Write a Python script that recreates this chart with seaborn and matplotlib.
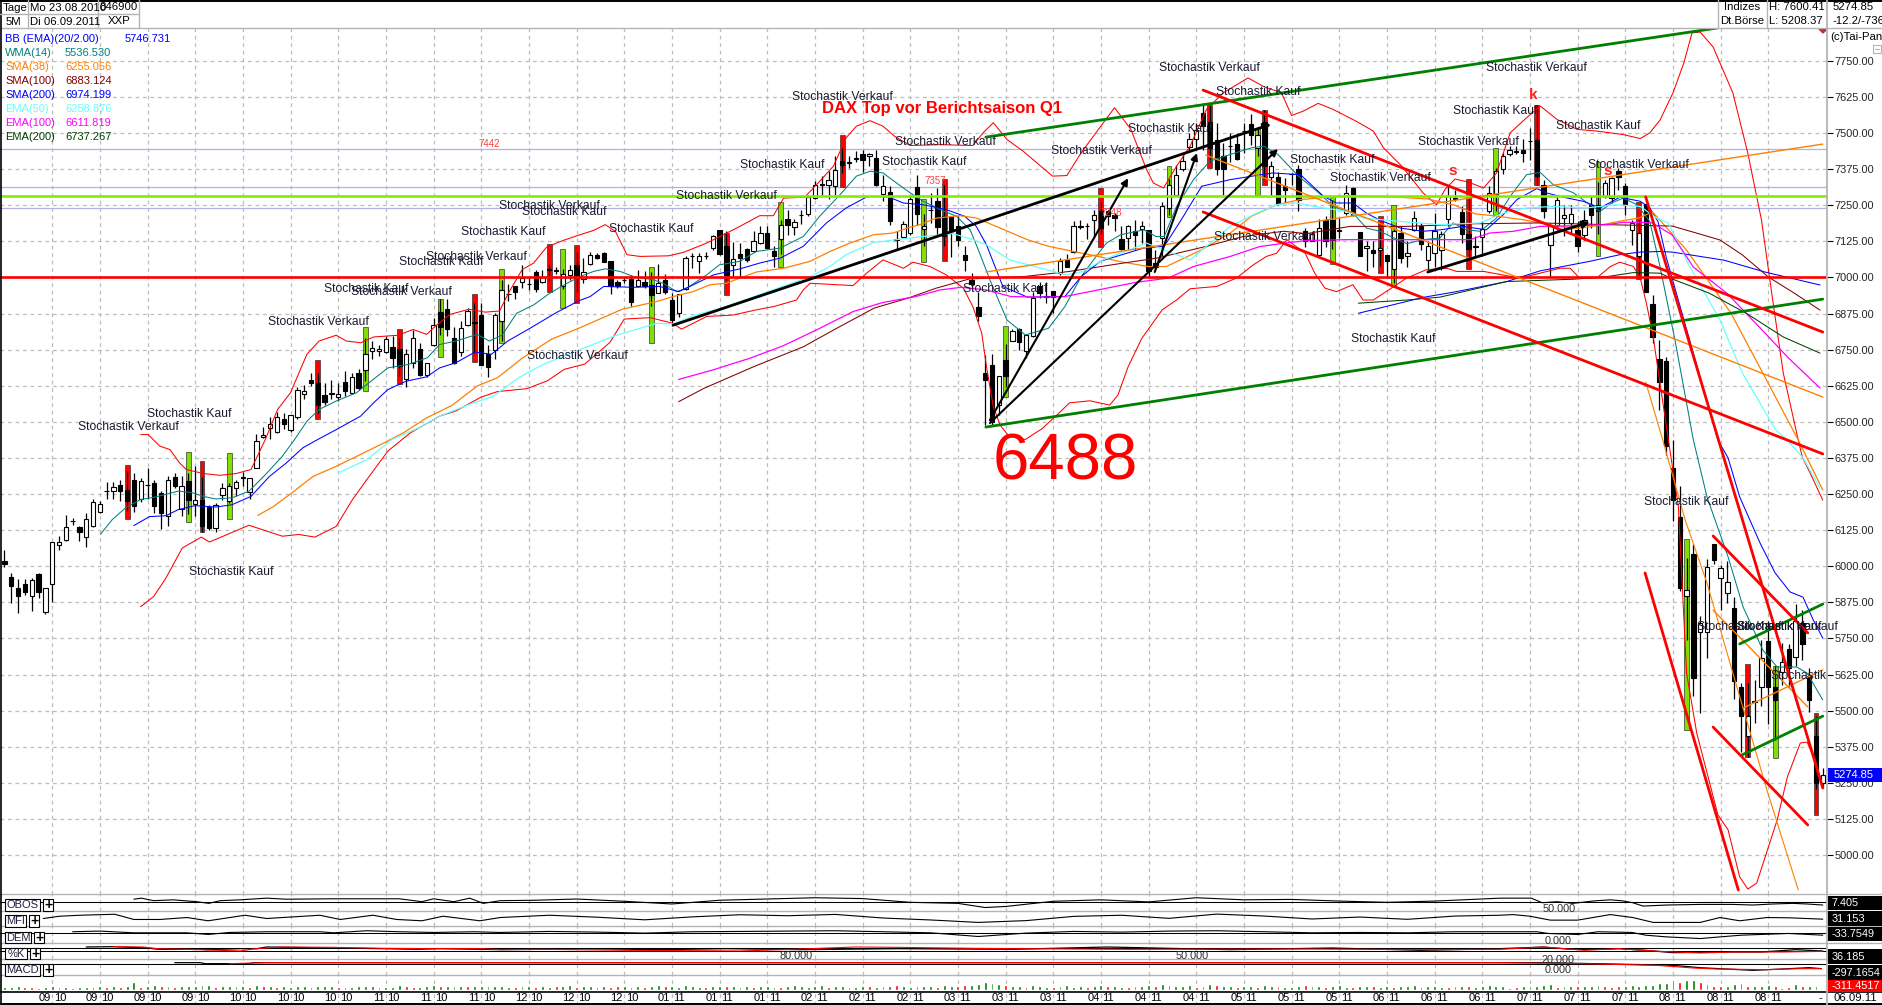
import seaborn as sns
import matplotlib
matplotlib.use("Agg")
import matplotlib.pyplot as plt
from matplotlib.patches import Rectangle

# daily candles, DAX 23.08.2010 - 06.09.2011
opens = [6019,5963,5924,5939,5898,5974,5843,5938,6072,6090,
         6156,6136,6101,6141,6188,6260,6261,6283,6265,6299,
         6234,6283,6288,6254,6175,6309,6198,6294,6216,6231,
         6204,6132,6248,6225,6270,6307,6257,6340,6447,6479,
         6465,6511,6471,6516,6595,6645,6636,6593,6598,6587,
         6639,6601,6668,6679,6745,6745,6742,6760,6751,6650,
         6703,6753,6661,6766,6880,6892,6792,6743,6836,6842,
         6869,6736,6749,6850,6942,6971,6986,6977,7020,6986,
         7026,7023,6969,7009,7044,6994,7046,7079,7084,7058,
         6986,6990,6995,6972,6983,6975,6948,6990,6921,6878,
         6960,7073,7058,7075,7102,7163,7108,7044,7082,7098,
         7093,7119,7154,7093,7133,7202,7175,7216,7221,7275,
         7320,7322,7318,7405,7398,7412,7429,7422,7414,7290,
         7296,7130,7139,7154,7312,7168,7232,7264,7212,7212,
         7179,7079,6992,6897,6668,6697,6558,6714,6781,6821,
         6747,6799,6969,6934,6954,7015,7061,7088,7176,7178,
         7198,7230,7229,7216,7134,7137,7160,7168,7165,7050,
         7137,7240,7287,7376,7451,7478,7570,7540,7475,7420,
         7454,7464,7506,7530,7450,7540,7348,7348,7316,7358,
         7374,7160,7128,7079,7200,7200,7161,7223,7310,7157,
         7102,7094,7096,7079,7030,7154,7075,7165,7179,7061,
         7084,7096,7202,7273,7227,7150,7104,7140,7229,7290,
         7376,7428,7436,7443,7471,7475,7319,7111,7183,7206,
         7189,7165,7146,7252,7250,7281,7275,7368,7316,7163,
         7073,7255,6907,6717,6710,6340,6170,5898,6042,5771,
         5774,6078,5959,5909,5855,5583,5413,5530,5581,5742,
         5583,5633,5713,5685,5805,5620,5412,5248]
highs = [6057,5978,5955,5955,5959,5978,5924,6084,6106,6178,
         6167,6138,6184,6234,6227,6292,6292,6300,6330,6323,
         6305,6340,6300,6260,6312,6323,6312,6323,6346,6310,
         6213,6219,6288,6290,6300,6325,6305,6457,6483,6517,
         6535,6531,6525,6622,6626,6668,6670,6636,6644,6633,
         6676,6668,6684,6790,6780,6765,6797,6797,6790,6751,
         6818,6774,6705,6860,6925,6925,6830,6850,6896,6910,
         6913,6765,6878,6990,6978,6971,7044,7003,7027,7027,
         7047,7038,7030,7044,7090,7067,7087,7084,7087,7058,
         6992,7003,7009,7027,7021,7020,7046,7012,6946,6943,
         7076,7084,7084,7088,7148,7165,7160,7123,7119,7102,
         7160,7179,7179,7108,7200,7235,7202,7235,7287,7333,
         7350,7368,7420,7449,7422,7437,7441,7432,7443,7354,
         7316,7160,7194,7287,7356,7220,7293,7310,7320,7214,
         7212,7110,7015,6949,6732,6734,6659,6770,6821,6824,
         6803,6951,6986,6986,6954,7067,7082,7194,7200,7189,
         7235,7260,7235,7223,7177,7183,7198,7194,7165,7096,
         7260,7340,7388,7432,7501,7536,7603,7597,7536,7466,
         7501,7501,7536,7565,7520,7580,7403,7364,7345,7362,
         7391,7171,7154,7202,7212,7270,7206,7322,7313,7157,
         7125,7125,7171,7079,7170,7177,7125,7231,7189,7125,
         7223,7160,7316,7304,7246,7280,7142,7194,7318,7380,
         7432,7455,7455,7478,7518,7596,7339,7189,7281,7252,
         7252,7194,7235,7281,7330,7336,7348,7380,7327,7200,
         7200,7255,6940,6784,6725,6438,6277,6028,6077,5826,
         6025,6078,6005,6017,5895,5595,5595,5607,5745,5809,
         5656,5734,5731,5870,5849,5647,5480,5300]
lows = [5999,5872,5839,5901,5846,5891,5835,5877,6055,6089,
        6144,6086,6065,6136,6184,6234,6234,6227,6190,6189,
        6222,6233,6184,6130,6138,6271,6173,6180,6173,6120,
        6126,6118,6231,6219,6242,6277,6233,6340,6444,6442,
        6462,6476,6464,6511,6578,6624,6530,6557,6578,6572,
        6589,6597,6610,6640,6716,6728,6740,6687,6660,6622,
        6687,6659,6656,6762,6800,6797,6699,6728,6832,6740,
        6697,6656,6717,6780,6917,6925,6963,6957,6951,6980,
        6992,7013,6960,6992,6950,6980,7044,7064,7052,6943,
        6963,6980,6902,6969,6963,6900,6946,6943,6833,6862,
        6957,7032,7017,7064,7096,7079,6990,7003,7003,7055,
        7090,7117,7098,7036,7080,7148,7146,7186,7214,7273,
        7287,7272,7287,7362,7380,7400,7366,7385,7318,7264,
        7183,7096,7136,7148,7183,7110,7189,7148,7110,7070,
        7110,7024,6957,6850,6490,6489,6523,6620,6781,6749,
        6722,6795,6928,6911,6876,7009,7038,7084,7168,7133,
        7137,7150,7183,7160,7096,7096,7096,7119,7003,7021,
        7073,7215,7283,7368,7443,7449,7443,7400,7356,7287,
        7400,7408,7432,7460,7420,7340,7287,7252,7258,7319,
        7229,7107,7125,7073,7107,7100,7137,7218,7212,7073,
        7021,7038,7040,6998,6980,7050,7038,7160,7094,7027,
        7038,7027,7177,7264,7119,7060,7067,7073,7223,7230,
        7360,7420,7426,7399,7408,7322,7206,7003,7165,7142,
        7154,7090,7131,7171,7150,7275,7258,7304,7218,7113,
        7000,6951,6772,6541,6385,6155,5913,5745,5551,5491,
        5682,6009,5849,5872,5540,5358,5340,5456,5516,5454,
        5400,5589,5583,5653,5676,5497,5230,5231]
closes = [6008,5933,5898,5912,5953,5912,5924,6084,6084,6136,
          6157,6117,6163,6222,6216,6261,6275,6260,6225,6207,
          6295,6280,6207,6184,6299,6277,6277,6231,6231,6140,
          6132,6213,6271,6277,6292,6309,6305,6434,6454,6491,
          6517,6491,6523,6610,6607,6636,6560,6568,6600,6598,
          6607,6656,6618,6736,6757,6753,6788,6720,6693,6736,
          6792,6662,6703,6834,6830,6820,6705,6826,6884,6847,
          6697,6690,6869,6958,6944,6951,6998,6979,6960,7001,
          7030,7025,7013,7027,6998,7019,7078,7067,7054,6969,
          6971,6993,6914,6992,6972,6940,6980,6951,6853,6943,
          7067,7075,7075,7076,7142,7080,7009,7064,7067,7059,
          7125,7154,7102,7076,7183,7183,7191,7218,7278,7322,
          7323,7339,7371,7390,7401,7415,7406,7428,7319,7316,
          7194,7132,7185,7272,7221,7179,7234,7175,7142,7163,
          7131,7061,6978,6865,6645,6500,6659,6659,6815,6778,
          6801,6928,6946,6937,6934,7058,7038,7179,7178,7180,
          7215,7170,7212,7205,7100,7179,7146,7179,7024,7035,
          7249,7320,7355,7405,7478,7512,7524,7450,7376,7376,
          7456,7411,7508,7495,7495,7385,7385,7258,7302,7360,
          7267,7125,7152,7171,7128,7130,7163,7293,7218,7073,
          7108,7084,7102,7058,7160,7069,7084,7206,7116,7110,
          7162,7152,7281,7276,7150,7100,7109,7168,7293,7370,
          7422,7443,7438,7432,7473,7351,7229,7177,7267,7218,
          7221,7108,7198,7217,7230,7327,7345,7348,7252,7189,
          7155,6951,6795,6639,6415,6231,5924,5919,5612,5803,
          5997,6020,5994,5947,5601,5480,5480,5532,5682,5583,
          5537,5670,5647,5809,5730,5537,5248,5277]

# signal bars (Stochastik)
red_idx = [18,29,46,58,69,80,84,106,123,138,161,177,185,202,215,225,240,256,266]
red_top = [6350,6365,6714,6823,6942,7117,7112,7154,7494,7341,7310,7597,7580,7214,7341,7596,7260,5661,5491]
red_bot = [6163,6118,6511,6630,6708,6949,6911,6940,7312,7056,7105,7378,7319,7017,7029,7322,6994,5338,5139]
green_idx = [27,33,53,64,73,82,95,114,135,147,171,184,195,204,219,234,247,260]
green_top = [6396,6392,6830,6925,7029,7098,7036,7260,7272,6832,7385,7518,7279,7252,7447,7399,6094,5656]
green_bot = [6152,6163,6607,6726,6772,6894,6772,7036,7052,6585,7209,7287,7046,6969,7214,7075,5433,5335]

bb_up_x = [20,21.1,22.8,24.3,25.7,26.7,29.2,31.6,34,36.2,38.3,40.1,42,44.4,46.2,48.7,50.2,52.3,54.2,57.8,60,62,63.3,65.4,68.2,70.6,72.7,74,76,77.7,79.6,82,84.5,86.5,88.2,89.7,91.4,93.3,97.5,99.7,103.1,107.5,110.9,112.9,114.4,117.5,119.7,121.7,123.6,125.1,127.1,129,130.7,133,137.4,142.2,143.7,145.2,147.2,149.6,153.9,156,158.1,163,165.4,167.7,168.7,170.2,172.1,174.1,176.5,179,182.6,185,187.5,189,190.7,192.9,195.1,198.5,201,202.5,205.2,208.3,210.3,211.5,213,215,217.2,219.1,221.1,223.5,225.5,228,230.9,233.8,237.7,240.2,241.6,243.1,245,246.6,247.8,249,250.9,253.8,256,258,259.5,261.2,263.4,264,265.4,267]
bb_up_p = [6456,6456,6416,6404,6358,6335,6321,6315,6321,6335,6439,6543,6601,6734,6780,6800,6780,6774,6794,6800,6820,6803,6832,6872,6890,6880,6884,6946,7027,7050,7105,7128,7148,7163,7183,7160,7079,7073,7075,7087,7119,7171,7214,7214,7275,7278,7333,7385,7484,7524,7543,7524,7489,7457,7460,7457,7501,7536,7478,7437,7351,7353,7432,7588,7513,7374,7327,7310,7385,7455,7582,7640,7691,7660,7640,7561,7576,7603,7582,7541,7507,7449,7385,7293,7252,7304,7341,7330,7310,7362,7501,7553,7594,7547,7513,7507,7495,7481,7501,7545,7639,7743,7847,7850,7798,7639,7430,7199,6946,6669,6437,6378,6310,6229]
bb_lo_x = [20,21.9,23.7,26.1,28.9,30.1,35.9,40.8,43.2,45.6,48.7,51.1,53.2,56.3,59.6,63.9,66.3,70,72.4,76.7,79.7,82.2,85.2,88.9,91,94.8,98.2,99.4,101.1,103.1,107,110.4,112.9,116.3,117.3,118.3,124.6,126.6,129,132,133.4,135.9,138.3,140.8,142.2,143.5,144.2,145.2,146.2,147.5,149.9,152.4,154.5,156.4,159.4,162.3,163.5,165,167,170,172.1,174.1,178,180.9,183.4,185.3,186.8,188.3,191,192.4,193.9,195.6,198,199.5,201,205.9,208.8,211.8,213.2,217.2,222.5,225.5,228.4,229.9,231.3,233.8,235.8,237.2,239.2,240.2,241.1,242.1,243.1,245.8,247,248.5,251.6,253.1,254.8,256,257.3,260.3,261.8,263.7,264.7,265.9,267]
bb_lo_p = [5860,5895,5959,6063,6101,6084,6142,6104,6110,6101,6138,6231,6300,6399,6462,6520,6538,6586,6605,6615,6642,6682,6700,6775,6856,6861,6841,6821,6841,6865,6870,6888,6899,6922,6957,6980,6972,7015,7061,7032,7053,7038,7009,6963,6899,6807,6691,6552,6489,6450,6439,6477,6523,6566,6573,6558,6593,6691,6789,6888,6922,6961,6969,6998,7044,7073,7084,7131,7084,7015,6963,6951,6975,6922,6922,6998,7027,7032,7021,7021,6998,7015,7032,7032,6998,6998,7038,7053,7038,6998,6911,6795,6633,6205,5630,5422,5139,5087,4924,4882,4903,5121,5270,5388,5391,5329,5235]
wma_x = [14.1,15.8,17.9,20,22.2,25.5,27.4,29.2,31,33.4,35.9,38.3,40.8,42.6,44.4,46.2,48.7,51.7,53.5,56.3,59.3,62.1,63.9,66.3,69.4,71.2,73.1,75.2,77.7,80.1,82.6,84.5,86.5,88.2,90.4,92.4,95.3,96.7,98.7,100.2,103.1,105,108,110.4,113.9,117.3,119.7,122.7,125.1,127.1,129,131,133,134.9,137.4,139.8,141.8,143.2,144.7,147.2,149.9,153.3,155.7,158.1,160.3,161.8,163.9,167.3,169.1,170.3,172.1,174.6,177,180,183.1,184.9,187,190,193,195.1,198,200,202,204,205.9,208.3,210.8,212.7,214.7,216.7,219.1,221.1,223.5,225.5,227.4,230.4,232.8,234.3,236,237.7,239.7,241.6,243.1,245.3,248,250,253.1,255.3,258.2,260.3,263.2,264.7,267]
wma_p = [6111,6161,6205,6231,6240,6260,6256,6242,6233,6237,6260,6317,6381,6439,6502,6543,6572,6601,6635,6687,6699,6722,6768,6780,6803,6780,6801,6876,6905,6946,6980,7003,7021,7030,7021,7003,6992,6980,6951,6963,7009,7044,7056,7090,7102,7142,7212,7287,7351,7368,7362,7327,7293,7264,7235,7212,7165,7084,6992,6853,6801,6824,6899,7003,7073,7119,7148,7165,7142,7142,7246,7339,7403,7426,7449,7455,7426,7351,7293,7246,7223,7171,7160,7137,7117,7131,7137,7189,7165,7160,7206,7281,7356,7364,7322,7293,7252,7229,7258,7275,7252,7194,7038,6783,6437,6240,6032,5859,5710,5651,5651,5630,5537]
bbm_x = [19,21.3,23.7,25.5,28,31,33.4,36.2,38.9,41.4,43.8,46,48.7,52.3,54.2,56.3,59,62,63.9,66.3,69.1,71.5,73.9,77.3,81,84.3,86,88,92.4,96.2,99,101.6,104.1,108,110.9,113.9,117.3,120.7,123.6,126.6,127.6,129.8,132,134.9,138.3,141,142.7,144.2,146.6,150.2,155.7,158.1,160.9,164.8,167.3,170.3,172.8,175.8,180,186.2,190.3,193.7,195.6,198,200,202,205,208.3,210.8,214.2,217.6,220.1,222.1,225,226.4,228.9,231.8,234.3,237.2,240.2,241.6,242.8,244,251.6,253.1,254.8,257.8,260,262.2,264.1,265.6,267]
bbm_p = [6141,6172,6175,6196,6210,6205,6213,6242,6311,6358,6410,6439,6473,6520,6566,6612,6641,6656,6687,6705,6742,6734,6780,6826,6878,6919,6934,6969,6966,6969,6951,6980,7009,7030,7050,7067,7108,7189,7241,7279,7281,7279,7258,7252,7235,7212,7177,7113,6969,6932,6934,7003,7056,7084,7102,7108,7200,7316,7339,7362,7356,7281,7258,7258,7223,7198,7171,7160,7165,7177,7165,7218,7270,7308,7293,7278,7264,7241,7278,7264,7241,7194,7071,6437,6375,6240,6080,5977,5911,5893,5814,5751]
sma38_x = [37.2,39.5,42.3,45.3,48.7,53.2,55.7,58.7,62,65.7,69.4,72.4,76.1,80.3,84.6,90.7,95.8,98.2,101.1,103.6,106,108,110.4,114.4,118.3,121.2,124.1,127.6,130.5,132.5,134.4,136.9,140.3,142.7,146.2,150.2,153.3,157,160.6,163.6,167.9,170.6,175.8,180,183.1,186.8,190.3,197,204,209,213,216,219,223,228,231,234,237,240,242,247,253.5,258.2,263.4,267]
sma38_p = [6176,6207,6256,6311,6346,6398,6427,6464,6514,6557,6624,6653,6722,6786,6827,6890,6917,6934,6951,6975,6980,6998,7019,7032,7056,7090,7119,7148,7154,7171,7183,7206,7214,7206,7171,7131,7108,7090,7073,7056,7038,7038,7096,7154,7212,7252,7270,7283,7279,7272,7250,7220,7213,7200,7178,7170,7180,7194,7206,7227,7095,6877,6669,6437,6264]
sma100_x = [99,102.7,110,117.3,122.2,127.7,132.6,136.8,141.7,149.6,156.4,164.3,169.2,176.5,181.9,187.8,191.2,197.6,205.9,215.7,225.5,235.3,244.9,248,251.9,255.2,259,262.8,266.6]
sma100_p = [6570,6616,6691,6760,6824,6894,6928,6963,6995,7003,7021,7050,7067,7108,7142,7160,7152,7177,7177,7186,7189,7183,7178,7157,7130,7078,7002,6946,6887]
sma200_x = [198.8,208.3,213.2,220.6,225.5,232.8,237.2,240.2,243.1,244.9,252.5,258.5,266.6]
sma200_p = [6876,6931,6951,6986,7023,7056,7079,7088,7090,7088,7060,7019,6974]
ema50_x = [49,53.2,56.9,60.8,63.9,68.2,71.8,75.5,79.1,84.6,89.5,93.3,95.7,98.2,101.4,105.3,118.3,121.2,123.6,127.6,131,134.9,139.3,142.2,144.2,147.6,155.9,158.4,161.3,167.7,174.1,176.5,180,183.9,186.8,189.7,193.7,197,199.5,205,210.8,216.7,220.1,223.5,227.4,232.3,236.7,240.2,242.6,244.3,247.5,251.9,255.2,260.1,261.8,264.1,266.6]
ema50_p = [6323,6369,6439,6479,6520,6560,6589,6653,6699,6751,6797,6824,6841,6839,6870,6894,7003,7038,7079,7121,7131,7142,7152,7131,7113,7061,7009,7021,7061,7119,7061,7108,7177,7223,7252,7258,7241,7229,7206,7194,7183,7189,7223,7241,7246,7241,7252,7246,7206,7189,7036,6853,6669,6472,6437,6375,6271]
ema100_x = [99,103.9,109.4,114.3,119.2,124.6,128.9,133.8,137.4,140.5,144.1,147.8,152.7,155.7,160.6,166.1,170.9,174.6,180,184.3,188,191.2,197,201,215.2,218.1,221.6,225.5,230.4,235.3,237.7,240.4,242,244.9,248,252.9,258.5,261.8,266.6]
ema100_p = [6647,6679,6720,6763,6818,6882,6913,6934,6957,6966,6957,6934,6932,6934,6957,6983,6998,7038,7073,7107,7119,7128,7131,7131,7131,7154,7160,7177,7179,7183,7191,7191,7189,7147,7036,6946,6808,6725,6617]
ema200_x = [198.8,205.9,210.8,220.6,230.4,235.3,239.2,243.1,245.3,250.3,255.7,261.2,266.6]
ema200_p = [6911,6922,6932,6986,6994,7003,7017,7015,6991,6946,6877,6794,6738]

# drawn trend lines
tl_green_x = [[144.1,251.5],[144.1,267],[254.8,267],[255.1,267]]
tl_green_p = [[7486,7864],[6482,6925],[5731,5869],[5346,5481]]
tl_red_x = [[176,267],[176,267],[241,267],[240.9,254.6],[250.9,264.8],[250.9,264.8]]
tl_red_p = [[7649,6811],[7227,6389],[7279,5232],[5977,4879],[6105,5769],[5443,5104]]
tl_black_x = [[98.2,186],[144.7,165],[168.9,175.1],[144.7,187],[209,232.8]]
tl_black_p = [[6835,7531],[6506,7344],[7019,7431],[6496,7445],[7019,7192]]
tl_orange_x = [[176.4,267],[144.1,267],[250.9,264.8],[255.3,267]]
tl_orange_p = [[7424,6586],[7019,7462],[5848,5513],[5509,5641]]
orange_steep_x = [241,243.5,246.8,250,253.8,258.8,263.4]
orange_steep_p = [6638,6437,6160,5942,5630,5225,4879]

level_blue = [7444,7312,7239]
level_green = 7282
level_red = 7000

# indicator panes
obos_x = [19,20.1,21.9,24.8,28.2,30,31.7,34.6,38.5,41.4,48.3,58,61.3,63,66,68.3,70.3,72.8,78,84,91,98,105,112,119,126,133,140,144,147,154,161,168,175,182,189,196,203,210,219.6,224.2,225.8,228,230.3,233.5,235.8,237.6,239.1,240.6,244.1,249,253.8,256.7,259.7,262.6,264.7,267]
obos_v = [65,70,58,62,53,45,58,62,70,65,67,67,53,67,53,70,45,58,60,66,55,42,60,66,72,68,50,45,25,30,55,62,52,72,62,64,56,50,56,70,70,48,53,45,57,62,57,48,32,37,40,40,37,42,45,42,37]
mfi_x = [5.7,8.1,11.1,16.2,19,22.8,26.8,29.9,33.1,35.3,38.5,46.3,49.3,54.1,57.6,61.3,64.4,69.8,72.8,80,87,94,101,108,115,122,129,136,143,150,157,164,171,178,185,192,199,206,213,219.6,221.5,224,227,231,235.8,239.1,242.1,249,251.9,254.8,258.8,262.2,267]
mfi_v = [35,49,55,61,29,29,41,21,41,55,35,55,29,55,29,21,49,21,41,55,43,27,45,58,52,60,38,26,11,22,48,55,36,62,50,32,44,30,50,55,59,49,25,25,59,41,11,11,41,21,41,39,31]
dem_x = [10,14,19,26.8,29.9,33,38.5,46.3,48.3,53.2,58,63,69,72.8,80,87,94,101,108,115,122,129,136,143,150,157,164,171,178,185,192,199,206,213,219.6,225,226.7,231,234,239,241,244,249,252,255,262,267]
dem_v = [34,47,13,13,-20,20,34,34,13,54,34,20,34,20,40,27,7,34,40,47,54,34,13,-60,7,40,27,47,54,34,13,20,13,34,34,34,0,-20,34,20,-34,-67,-101,-67,-34,0,-34]
k_x = [12,16,21,22.6,25.8,27.7,29.7,34.6,37,38.5,48.3,55.6,60.5,64,72.8,79,85,96,106,117,131,148,162,180,195,208,219.6,226,230,235,237,241,245,252,258,263,267]
k_v = [92,98,74,50,50,62,44,62,62,92,74,62,50,62,44,50,62,44,62,44,62,50,92,44,74,32,62,92,50,50,62,32,-10,2,2,44,20]
d_x = [16,20.4,22.4,26.8,31.7,34.6,36.5,40.5,48.3,55.6,63,70.3,72.8,79,92,108,117,125,131,142,148,165,190,210,219.6,226,232,237,243,249,254,261,267]
d_v = [98,92,62,50,32,20,56,92,86,68,62,62,44,50,32,20,56,92,86,68,62,50,56,44,50,92,32,62,14,-16,2,2,14]
macd_b_x = [25,28.7,29.5,36,36.5,88,112,117,200,219.6,221.5,226.4,240.6,245,248.9,256.7,261.1,265,266.8]
macd_b_v = [60,60,0,0,60,60,60,60,60,60,60,60,-60,-100,-240,-400,-320,-240,-300]
macd_r_x = [33,36.5,38.5,112,117,219.6,231.8,242.6,248,251.3,258.7,263.6,266.8]
macd_r_v = [0,40,60,60,60,60,0,-100,-260,-320,-360,-300,-300]

# +green / -red histogram at the bottom
vol = [3,3,4,-3,-3,-2,3,4,-3,3,
       -2,3,3,3,4,-3,4,-3,4,8,
       -3,4,5,-4,4,-3,4,4,4,5,
       5,-3,4,4,4,4,-3,5,-4,4,
       -3,4,3,4,4,3,4,4,4,-3,
       3,3,4,4,4,-3,3,3,5,-4,
       -3,3,4,5,-4,4,4,4,-4,4,
       4,4,4,
       4,3,-3,4,4,-3,4,3,-4,4,
       5,-3,4,4,3,4,-3,-4,4,3,
       4,-3,4,5,-4,4,3,5,4,3,
       -3,4,4,-4,4,3,4,-3,4,4,
       3,-3,4,5,4,3,4,5,-3,4,
       4,-3,3,4,-4,3,4,4,-5,4,
       3,-4,4,4,-3,5,4,-4,-5,5,
       6,8,7,6,-5,4,4,-3,5,4,
       3,-3,4,5,3,4,-3,4,5,-4,
       4,3,-3,4,4,5,-4,6,5,4,
       4,5,-3,4,6,-5,4,4,-3,4,
       4,-3,5,4,-4,3,3,4,-5,4,
       4,-3,4,5,3,-3,4,4,-4,3,
       4,-3,4,4,5,-3,4,4,3,-3,
       4,4,-4,3,4,5,4,
       4,-2,-3,4,4,4,5,6,-3,4,
       4,-4,4,4,5,-4,-3,-4,4,5,
       4,5,5,7,7,10,-8,10,10,-8,
       -6,-4,-4,4,6,7,-4,4,4,5,
       -4,-2,-3,6,-4,4,4,-1]

price_ticks = [5000,5125,5250,5375,5500,5625,5750,5875,6000,6125,6250,6375,6500,6625,6750,6875,7000,7125,7250,7375,7500,7625,7750]
month_labels = ["09"]*4 + ["10"]*3 + ["11"]*3 + ["12"]*3 + ["01"]*3 + ["02"]*3 + ["03"]*3 + ["04"]*3 + ["05"]*3 + ["06"]*3 + ["07"]*3 + ["08"]*3
year_labels = ["10"]*13 + ["11"]*24

kauf_labels = [(147,414),(189,572),(324,289),(399,262),(461,232),(522,212),(609,229),(740,165),(882,162),(963,289),(1128,129),(1216,92),(1290,160),(1351,339),(1453,111),(1556,126),(1644,502),(1697,627),(1737,627)]
verkauf_labels = [(78,427),(268,322),(351,292),(426,257),(499,206),(527,356),(676,196),(792,97),(895,142),(1051,151),(1159,68),(1214,237),(1330,178),(1418,142),(1486,68),(1588,165),(1737,627)]

legend_rows = [("WMA(14)","5536.530","#008080"),("SMA(38)","6255.056","#ff8000"),("SMA(100)","6883.124","#800000"),("SMA(200)","6974.199","#0000ff"),("EMA(50)","6258.876","#66ffff"),("EMA(100)","6611.819","#ff00ff"),("EMA(200)","6737.267","#004000")]

sns.set_style("white")
plt.rcParams['font.family'] = ['Liberation Sans', 'DejaVu Sans']

W, H = 1883, 1005
fig = plt.figure(figsize=(W/100, H/100), dpi=100, facecolor="white")
x_lim = ((0-4.5)/6.81, (1827-4.5)/6.81)
GRID = "#bdbdbd"


def pane(top, bottom):
    a = fig.add_axes([0, 1-bottom/H, 1827/W, (bottom-top)/H])
    a.set_xlim(*x_lim)
    a.set_xticks(range(7, 260, 7))
    a.set_yticks([])
    a.tick_params(length=0, labelbottom=False)
    a.xaxis.grid(True, color=GRID, linestyle=(0, (3, 3)), linewidth=0.9)
    a.set_axisbelow(True)
    for s in a.spines.values():
        s.set_visible(False)
    return a


def line(a, xs, ys, color, lw=0.75, z=4):
    sns.lineplot(x=xs, y=ys, ax=a, color=color, linewidth=lw, estimator=None, sort=False, legend=False, zorder=z)
    a.set_xlabel("")
    a.set_ylabel("")


# main price pane
ax = pane(28, 894)
ax.set_ylim(4865, 7864)
ax.yaxis.tick_right()
ax.set_yticks(price_ticks)
ax.set_yticklabels([f"{p:.2f}" for p in price_ticks], fontsize=7.9)
ax.tick_params(axis="y", length=4, width=0.8, pad=1.5, color="black")
ax.yaxis.grid(True, color=GRID, linestyle=(0, (3, 3)), linewidth=0.9)

for lv in level_blue:
    ax.axhline(lv, color="#b0b0f0", lw=0.9, zorder=1)

ax.bar(red_idx, [t-b for t, b in zip(red_top, red_bot)], bottom=red_bot, width=0.72, color="#ff0000", edgecolor="#333333", linewidth=0.5, zorder=2)
ax.bar(green_idx, [t-b for t, b in zip(green_top, green_bot)], bottom=green_bot, width=0.72, color="#80e000", edgecolor="#333333", linewidth=0.5, zorder=2)

days = list(range(len(opens)))
ax.vlines(days, lows, highs, color="black", lw=0.9, zorder=3)
body_col = ["white" if c >= o else "black" for o, c in zip(opens, closes)]
ax.bar(days, [c-o for o, c in zip(opens, closes)], bottom=opens, width=0.64, color=body_col, edgecolor="black", linewidth=0.8, zorder=3)

line(ax, bb_up_x, bb_up_p, "#ff0000")
line(ax, bb_lo_x, bb_lo_p, "#ff0000")
line(ax, wma_x, wma_p, "#008080")
line(ax, bbm_x, bbm_p, "#0000ff")
line(ax, sma38_x, sma38_p, "#ff8000", 0.9)
line(ax, sma100_x, sma100_p, "#800000")
line(ax, sma200_x, sma200_p, "#0000ff")
line(ax, ema50_x, ema50_p, "#66ffff", 0.9)
line(ax, ema100_x, ema100_p, "#ff00ff", 0.9)
line(ax, ema200_x, ema200_p, "#004000")

ax.axhline(level_green, color="#80f000", lw=1.9, zorder=5)
ax.axhline(level_red, color="#ff0000", lw=1.9, zorder=5)

for xs, ps in zip(tl_orange_x, tl_orange_p):
    line(ax, xs, ps, "#ff8000", 1.0, 5)
line(ax, orange_steep_x, orange_steep_p, "#ff8000", 0.8, 5)
for xs, ps in zip(tl_green_x, tl_green_p):
    line(ax, xs, ps, "#008000", 2.0, 6)
for xs, ps in zip(tl_red_x, tl_red_p):
    line(ax, xs, ps, "#ff0000", 2.0, 6)
for i, (xs, ps) in enumerate(zip(tl_black_x, tl_black_p)):
    ax.annotate("", xy=(xs[1], ps[1]), xytext=(xs[0], ps[0]), zorder=7,
                arrowprops=dict(arrowstyle="-|>", color="black", lw=2.0 if i in (0, 4) else 1.5,
                                mutation_scale=10, shrinkA=0, shrinkB=0))

# lower panes
p_obos = pane(894, 911)
p_obos.set_ylim(8.3, 90)
p_obos.axhline(50, color="black", lw=0.75)
line(p_obos, obos_x, obos_v, "black", 0.8)

p_mfi = pane(911, 926)
p_mfi.set_ylim(-11, 81)
line(p_mfi, mfi_x, mfi_v, "black", 0.8)

p_dem = pane(926, 943)
p_dem.set_ylim(-189, 148)
p_dem.axhline(0, color="black", lw=0.75)
line(p_dem, dem_x, dem_v, "black", 0.8)

p_k = pane(943, 959)
p_k.set_ylim(-124, 164)
p_k.axhline(80, color="black", lw=0.75)
p_k.axhline(20, color="black", lw=0.75)
line(p_k, k_x, k_v, "black", 0.9)
line(p_k, d_x, d_v, "#ff0000", 0.8)

p_macd = pane(959, 975)
p_macd.set_ylim(-680, 280)
p_macd.axhline(0, color="black", lw=0.75)
line(p_macd, macd_b_x, macd_b_v, "black", 0.9)
line(p_macd, macd_r_x, macd_r_v, "#ff0000", 0.8)

p_vol = pane(975, 991)
p_vol.set_ylim(-1, 15)
p_vol.bar(days, [abs(v) for v in vol], width=0.42, color=["#008000" if v > 0 else "#ff0000" for v in vol], zorder=3)

p_date = pane(991, 1005)
p_date.set_ylim(0, 1)

# everything else is placed in pixels on a transparent sheet
ov = fig.add_axes([0, 0, 1, 1], facecolor="none")
ov.set_xlim(0, W)
ov.set_ylim(H, 0)
ov.axis("off")


def txt(x, y, s, size=8.0, color="black", ha="left", **kw):
    return ov.text(x, y, s, fontsize=size, color=color, ha=ha, va="center", **kw)


FR = "#b4b4b4"
for y in (28, 894, 911, 926, 943, 959, 975):
    ov.plot([0, W], [y, y], color=FR, lw=1.0)
ov.plot([0, W], [991.5, 991.5], color="black", lw=1.2)
ov.plot([0, W], [1004, 1004], color="black", lw=1.4)
ov.plot([0, W], [0.7, 0.7], color="black", lw=1.4)
ov.plot([1.2, 1.2], [0, H], color="black", lw=1.2)
ov.plot([1827.5, 1827.5], [0, 1005], color=FR, lw=1.3)
for x in (28, 98, 139, 1718, 1767):
    ov.plot([x, x], [0, 28], color=FR, lw=1)
ov.plot([0, 139], [14, 14], color=FR, lw=1)

txt(3, 8, "Tage", 8.2)
txt(6, 22, "5M", 8.2)
txt(30, 8, "Mo 23.08.2010", 8.2)
txt(30, 22, "Di 06.09.2011", 8.2)
txt(100, 7, "846900", 8.2)
txt(108, 21, "XXP", 8.2)
txt(1742, 7, "Indizes", 8.2, ha="center")
txt(1742, 21, "Dt.Börse", 8.2, ha="center")
txt(1769, 7, "H: 7600.41", 8.2)
txt(1769, 21, "L: 5208.37", 8.2)
txt(1833, 7, "5274.85", 8.2)
txt(1833, 21, "-12.2/-736", 8.2)
txt(1830, 37, "(c)Tai-Pan", 8.2)
ov.add_patch(Rectangle((1873, 45), 8, 8, fc="white", ec=FR, lw=0.8))
ov.plot([1875, 1879], [49, 49], color=FR, lw=0.8)
ov.fill([1819, 1827, 1823], [29, 29, 33], color="#c03030")

txt(5, 39, "BB (EMA)(20/2.00)", 8, "#0000ff")
txt(125, 39, "5746.731", 8, "#0000ff")
for i, (name, val, col) in enumerate(legend_rows):
    txt(5, 53+i*14, name, 8, col)
    txt(65, 53+i*14, val, 8, col)

for x, y in kauf_labels:
    txt(x, y, "Stochastik Kauf", 8.7, "#1a1a30")
for x, y in verkauf_labels:
    txt(x, y, "Stochastik Verkauf", 8.7, "#1a1a30")
txt(1770, 676, "Stochastik", 8.7, "#1a1a30")

txt(822, 108, "DAX Top vor Berichtsaison Q1", 12.0, "#ff0000", fontweight="bold")
txt(993, 462, "6488", 47, "#ff0000")
txt(1453, 171, "s", 11, "#ff2020", ha="center", fontweight="bold")
txt(1608, 171, "s", 11, "#ff2020", ha="center", fontweight="bold")
txt(1533, 95, "k", 11, "#ff2020", ha="center", fontweight="bold")
txt(478, 144, "7442", 7, "#ff4040")
txt(924, 181, "7357", 7, "#ff4040")
txt(1100, 213, "7248", 7, "#ff4040")

# pane buttons
for name, x1, x2, y1, y2 in [("OBOS", 5, 40, 899, 911), ("MFI", 5, 26, 915, 927), ("DEM", 5, 31, 932, 943), ("%K", 5, 27, 948, 959), ("MACD", 5, 40, 964, 976)]:
    ov.add_patch(Rectangle((x1, y1), x2-x1, y2-y1, fc="white", ec="black", lw=0.8, zorder=5))
    ov.text((x1+x2)/2, (y1+y2)/2, name, fontsize=8, color="#202040", ha="center", va="center", zorder=6)
    ov.add_patch(Rectangle((x2+3, y1), 10.5, y2-y1, fc="white", ec="black", lw=0.8, zorder=5))
    ov.text(x2+8.2, (y1+y2)/2, "+", fontsize=10, color="black", ha="center", va="center", fontweight="bold", zorder=6)

# pane scale labels, cut off by the pane edge as in the original
for x, y, s, cut in [(780, 956, "80.000", 959), (1176, 956, "50.000", 959), (1543, 909, "50.000", 911), (1545, 941, "0.000", 943), (1542, 960, "20.000", 959), (1545, 970, "0.000", 975)]:
    t = txt(x, y, s, 7.8, "#303030")
    t.set_clip_path(Rectangle((x-5, y-12), 60, cut-(y-12), transform=ov.transData))

# value tags on the right
for y1, y2, col, s in [(896, 910, "black", "7.405"), (911, 926, "black", "31.153"), (927, 941, "black", "-33.7549"), (949, 964, "black", "36.185"), (965, 980, "black", "-297.1654"), (980, 992, "#ff0000", "-311.4517")]:
    ov.add_patch(Rectangle((1828, y1), 55, y2-y1, fc=col, ec="none", zorder=5))
    ov.text(1832, (y1+y2)/2, s, fontsize=7.8, color="white", va="center", zorder=6)
ov.add_patch(Rectangle((1828, 768), 55, 14, fc="#0000ff", ec="none", zorder=5))
ov.text(1834, 775, "5274.85", fontsize=8.0, color="white", va="center", zorder=6)
txt(1834, 998, "06.09.11", 8.2)
txt(1820, 998, "-", 8.2, ha="center")

# date row
for i, (m, y) in enumerate(zip(month_labels, year_labels)):
    px = 4.5 + (i+1)*7*6.81
    txt(px-1.5, 998, m, 8, ha="right")
    txt(px+1.5, 998, y, 8)

fig.savefig("out.png", dpi=100)
